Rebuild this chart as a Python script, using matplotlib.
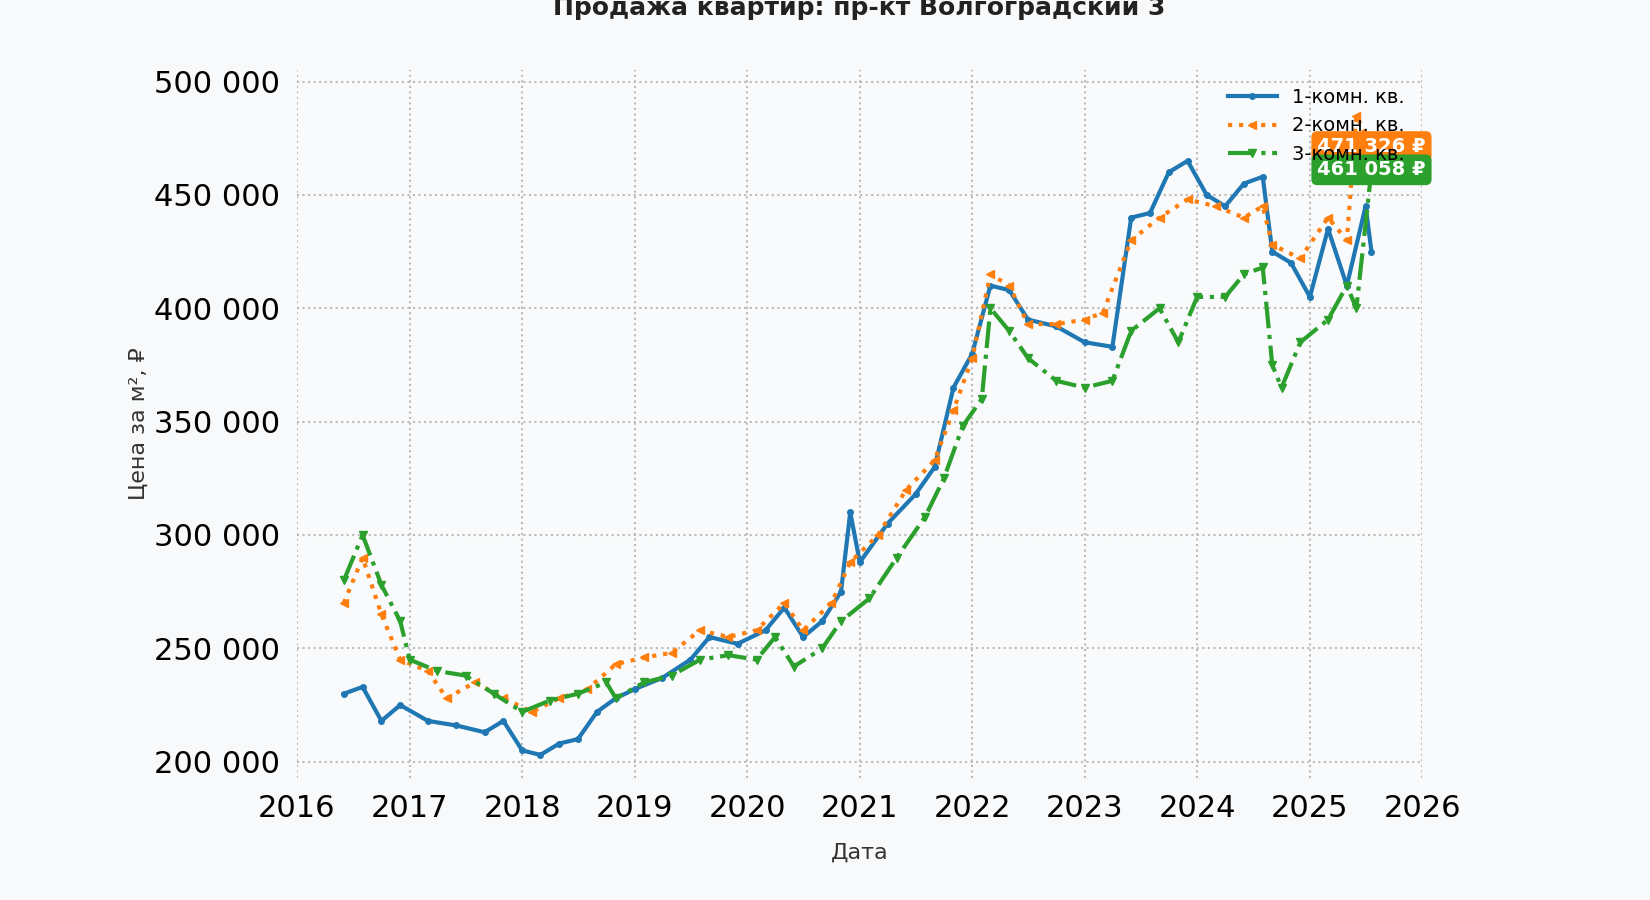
import matplotlib
matplotlib.use('Agg')
import matplotlib.pyplot as plt
import matplotlib.dates as mdates
import matplotlib.ticker as mticker
import pandas as pd

# 1-комн.
d1 = ['2016-06', '2016-08', '2016-10', '2016-12', '2017-03', '2017-06', '2017-09', '2017-11',
      '2018-01', '2018-03', '2018-05', '2018-07', '2018-09', '2018-11', '2019-01', '2019-04',
      '2019-07', '2019-09', '2019-12', '2020-03', '2020-05', '2020-07', '2020-09', '2020-11',
      '2020-12', '2021-01', '2021-04', '2021-07', '2021-09', '2021-11', '2022-01', '2022-03',
      '2022-05', '2022-07', '2022-10', '2023-01', '2023-04', '2023-06', '2023-08', '2023-10',
      '2023-12', '2024-02', '2024-04', '2024-06', '2024-08', '2024-09', '2024-11', '2025-01',
      '2025-03', '2025-05', '2025-07', '2025-07-20']
v1 = [230, 233, 218, 225, 218, 216, 213, 218, 205, 203, 208, 210, 222, 228, 232, 237,
      245, 255, 252, 258, 268, 255, 262, 275, 310, 288, 305, 318, 330, 365, 380, 410,
      408, 395, 392, 385, 383, 440, 442, 460, 465, 450, 445, 455, 458, 425, 420, 405,
      435, 410, 445, 425]

# 2-комн.
d2 = ['2016-06', '2016-08', '2016-10', '2016-12', '2017-03', '2017-05', '2017-08', '2017-11',
      '2018-02', '2018-05', '2018-08', '2018-11', '2019-02', '2019-05', '2019-08', '2019-11',
      '2020-02', '2020-05', '2020-07', '2020-10', '2020-12', '2021-03', '2021-06', '2021-09',
      '2021-11', '2022-01', '2022-03', '2022-05', '2022-07', '2022-10', '2023-01', '2023-03',
      '2023-06', '2023-09', '2023-12', '2024-03', '2024-06', '2024-08', '2024-09', '2024-12',
      '2025-03', '2025-05', '2025-06', '2025-07-20']
v2 = [270, 290, 265, 245, 240, 228, 235, 228, 222, 228, 232, 243, 246, 248, 258, 255,
      258, 270, 258, 270, 288, 300, 320, 333, 355, 378, 415, 410, 393, 393, 395, 398,
      430, 440, 448, 445, 440, 445, 428, 422, 440, 430, 485, 471.326]

# 3-комн.
d3 = ['2016-06', '2016-08', '2016-10', '2016-12', '2017-01', '2017-04', '2017-07', '2017-10',
      '2018-01', '2018-04', '2018-07', '2018-10', '2018-11', '2019-02', '2019-05', '2019-08',
      '2019-11', '2020-02', '2020-04', '2020-06', '2020-09', '2020-11', '2021-02', '2021-05',
      '2021-08', '2021-10', '2021-12', '2022-02', '2022-03', '2022-05', '2022-07', '2022-10',
      '2023-01', '2023-04', '2023-06', '2023-09', '2023-11', '2024-01', '2024-04', '2024-06',
      '2024-08', '2024-09', '2024-10', '2024-12', '2025-03', '2025-05', '2025-06', '2025-07-20']
v3 = [280, 300, 278, 262, 245, 240, 238, 230, 222, 227, 230, 235, 228, 235, 238, 245,
      247, 245, 255, 242, 250, 262, 272, 290, 308, 325, 348, 360, 400, 390, 378, 368,
      365, 368, 390, 400, 385, 405, 405, 415, 418, 375, 365, 385, 395, 410, 400, 461.058]

labels = ['1-комн. кв.', '2-комн. кв.', '3-комн. кв.']
end_labels = [None, '471 326 ₽', '461 058 ₽']

plt.rcParams['font.family'] = ['DejaVu Sans']
fig = plt.figure(figsize=(16.5, 9), dpi=100, facecolor='#f8f9fa')
ax = fig.add_axes([0.18, 0.136, 0.682, 0.786])
ax.set_facecolor('#f9fafb')

styles = [dict(color='#1f77b4', linestyle='-', marker='o', markersize=4),
          dict(color='#ff7f0e', linestyle=':', marker='<', markersize=6),
          dict(color='#2ca02c', linestyle='-.', marker='v', markersize=6)]

for dates, vals, lab, st, end in zip([d1, d2, d3], [v1, v2, v3], labels, styles, end_labels):
    x = pd.to_datetime(dates, format='ISO8601')
    y = [v * 1000 for v in vals]
    ax.plot(x, y, label=lab, linewidth=3, **st)
    if end:
        ax.text(x[-1], y[-1], end, ha='center', va='center', color='white', fontsize=14,
                fontweight='bold',
                bbox=dict(boxstyle='round,pad=0.3', facecolor=st['color'], edgecolor='none'))

ax.set_xlim(pd.Timestamp('2016-01-01'), pd.Timestamp('2026-01-01'))
ax.set_ylim(193000, 505000)
ax.xaxis.set_major_locator(mdates.YearLocator())
ax.xaxis.set_major_formatter(mdates.DateFormatter('%Y'))
ax.yaxis.set_major_locator(mticker.MultipleLocator(50000))
ax.yaxis.set_major_formatter(mticker.FuncFormatter(lambda v, p: f'{int(v):,}'.replace(',', ' ')))
ax.tick_params(labelsize=22, length=0, pad=12)
ax.grid(True, linestyle=':', color='#bbbbbb', linewidth=1.5)
for s in ax.spines.values():
    s.set_visible(False)

ax.set_title('Продажа квартир: пр-кт Волгоградский 3', fontsize=18, fontweight='bold',
             color='#222222', pad=40)
ax.set_ylabel('Цена за м², ₽', fontsize=16, color='#333333')
ax.set_xlabel('Дата', fontsize=16, color='#333333', labelpad=14)
ax.legend(loc='upper right', fontsize=14, frameon=False, handlelength=2.5)

fig.savefig('out.png', dpi=100, facecolor=fig.get_facecolor())
